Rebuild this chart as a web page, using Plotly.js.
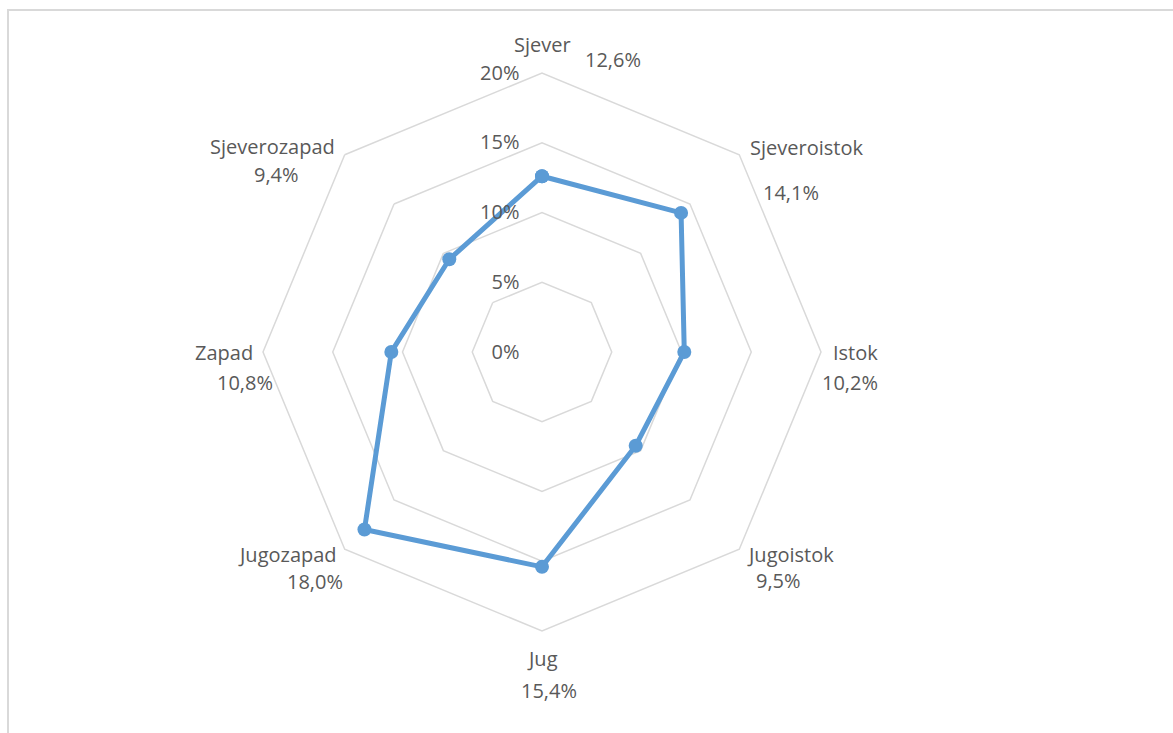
<!DOCTYPE html>
<html>
<head>
<meta charset="utf-8">
<script src="https://cdn.plot.ly/plotly-3.0.1.min.js"></script>
<style>
  html, body { margin: 0; padding: 0; background: #ffffff; overflow: hidden; }
  #frame { position: absolute; left: 7px; top: 9px; width: 1200px; height: 760px;
           border-left: 2px solid #d9d9d9; border-top: 2px solid #d9d9d9; }
  #chart { position: absolute; left: 0; top: 0; width: 1173px; height: 733px; }
</style>
</head>
<body>
<div id="frame"></div>
<div id="chart"></div>
<script>
// ---- data ----
const categories = ["Sjever", "Sjeveroistok", "Istok", "Jugoistok", "Jug", "Jugozapad", "Zapad", "Sjeverozapad"];
const values = [12.6, 14.1, 10.2, 9.5, 15.4, 18.0, 10.8, 9.4];
const radialTicks = [0, 5, 10, 15, 20];
const radialTickText = ["0%", "5%", "10%", "15%", "20%"];

// ---- layout helpers (label placement, pixels) ----
const W = 1173, H = 733;
const labelPos = [[613, 60], [791, 193], [850, 382], [778, 580], [549, 690], [315, 581], [245, 382], [276, 175]];
const catPos = [[542, 45], [806, 147], [855, 352], [790, 554], [542, 658], [287, 554], [224, 352], [272, 146]];

const fmt = v => v.toFixed(1).replace('.', ',') + '%';
const txtColor = '#595959';
const font = 'Open Sans, sans-serif';
const fs = 20;

const annotations = [];
values.forEach((v, i) => {
  annotations.push({
    xref: 'paper', yref: 'paper', x: labelPos[i][0] / W, y: 1 - labelPos[i][1] / H,
    xanchor: 'center', yanchor: 'middle', showarrow: false, text: fmt(v),
    font: { family: font, size: fs, color: txtColor }
  });
});
categories.forEach((c, i) => {
  annotations.push({
    xref: 'paper', yref: 'paper', x: catPos[i][0] / W, y: 1 - catPos[i][1] / H,
    xanchor: 'center', yanchor: 'middle', showarrow: false, text: c,
    font: { family: font, size: fs, color: txtColor }
  });
});

const cx = 542, cy = 352, R = 279;
const trace = {
  type: 'scatterpolar',
  r: values.concat([values[0]]),
  theta: categories.concat([categories[0]]),
  mode: 'lines+markers',
  line: { color: '#5b9bd5', width: 5 },
  marker: { color: '#5b9bd5', size: 14 },
  hoverinfo: 'skip',
  cliponaxis: false
};

const layout = {
  width: W, height: H,
  margin: { l: 0, r: 0, t: 0, b: 0 },
  paper_bgcolor: 'rgba(0,0,0,0)',
  plot_bgcolor: 'rgba(0,0,0,0)',
  showlegend: false,
  font: { family: font, color: txtColor },
  polar: {
    domain: { x: [(cx - R) / W, (cx + R) / W], y: [(H - cy - R) / H, (H - cy + R) / H] },
    gridshape: 'linear',
    bgcolor: 'rgba(0,0,0,0)',
    radialaxis: {
      range: [0, 20],
      angle: 90,
      side: 'counterclockwise',
      tickvals: radialTicks,
      ticktext: radialTickText,
      tickangle: 90,
      ticks: 'outside', ticklen: 15, tickcolor: 'rgba(0,0,0,0)',
      showline: false,
      gridcolor: '#d9d9d9', gridwidth: 1.5,
      tickfont: { family: font, size: fs, color: txtColor }
    },
    angularaxis: {
      direction: 'clockwise',
      rotation: 90,
      showgrid: false,
      showline: true, linecolor: '#d9d9d9', linewidth: 1.5,
      showticklabels: false,
      ticks: ''
    }
  },
  annotations: annotations
};

Plotly.newPlot('chart', [trace], layout, { displayModeBar: false, staticPlot: true });
</script>
</body>
</html>
